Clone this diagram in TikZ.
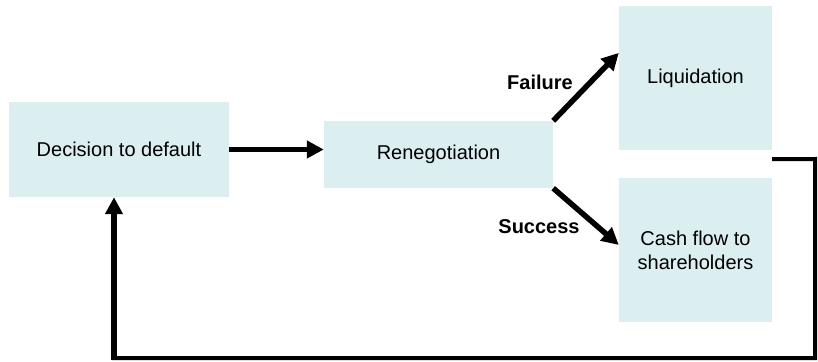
\documentclass[tikz,border=0pt]{standalone}
\usepackage{fontspec}
\setmainfont{Liberation Sans}
\usetikzlibrary{arrows.meta,calc}
\definecolor{boxfill}{RGB}{219,238,240}
\begin{document}
\begin{tikzpicture}[x=1pt,y=-1pt,
  box/.style={draw=none,fill=boxfill,inner sep=0pt,align=center,font=\fontsize{20pt}{24pt}\selectfont},
  lbl/.style={font=\bfseries\fontsize{20pt}{24pt}\selectfont,inner sep=0pt},
  bigarrow/.style={line width=5.5pt,-{Triangle[length=17pt,width=17pt]}},
  loopline/.style={line width=4pt,line join=miter}]
\useasboundingbox (0,0) rectangle (818,361);
\node[box,minimum width=220pt,minimum height=95pt] (dec) at (119,149.5) {Decision to default};
\node[box,minimum width=229pt,minimum height=67pt] (ren) at (438.5,154.5) {\raisebox{4pt}{Renegotiation}};
\node[box,minimum width=153pt,minimum height=144pt] (liq) at (695.5,78) {Liquidation};
\node[box,minimum width=153pt,minimum height=144pt] (cash) at (695.5,250) {Cash flow to\\shareholders};
\node[lbl] (fail) at (540,82) {Failure};
\node[lbl] (succ) at (539,227) {Success};
\draw[bigarrow] (dec.east) -- (dec.east -| ren.west);
\draw[bigarrow] (ren.north east) -- ($(liq.north west)!0.326!(liq.south west)$);
\draw[bigarrow] (ren.south east) -- ($(cash.north west)!0.465!(cash.south west)$);
\coordinate (l0) at ($(liq.south east)+(0,9)$);
\coordinate (l1) at (815,159);
\coordinate (l2) at (815,358);
\coordinate (l3) at (114,358);
\coordinate (l4) at (dec.south -| l3);
\draw[loopline] (l0) -- (l1) -- (l2) -- (l3) -- ($(l3)!0.5!(l4)$);
\draw[line width=5.5pt,-{Triangle[length=17pt,width=17pt]}] ($(l3)+(0,2)$) -- (l4);
\end{tikzpicture}
\end{document}
